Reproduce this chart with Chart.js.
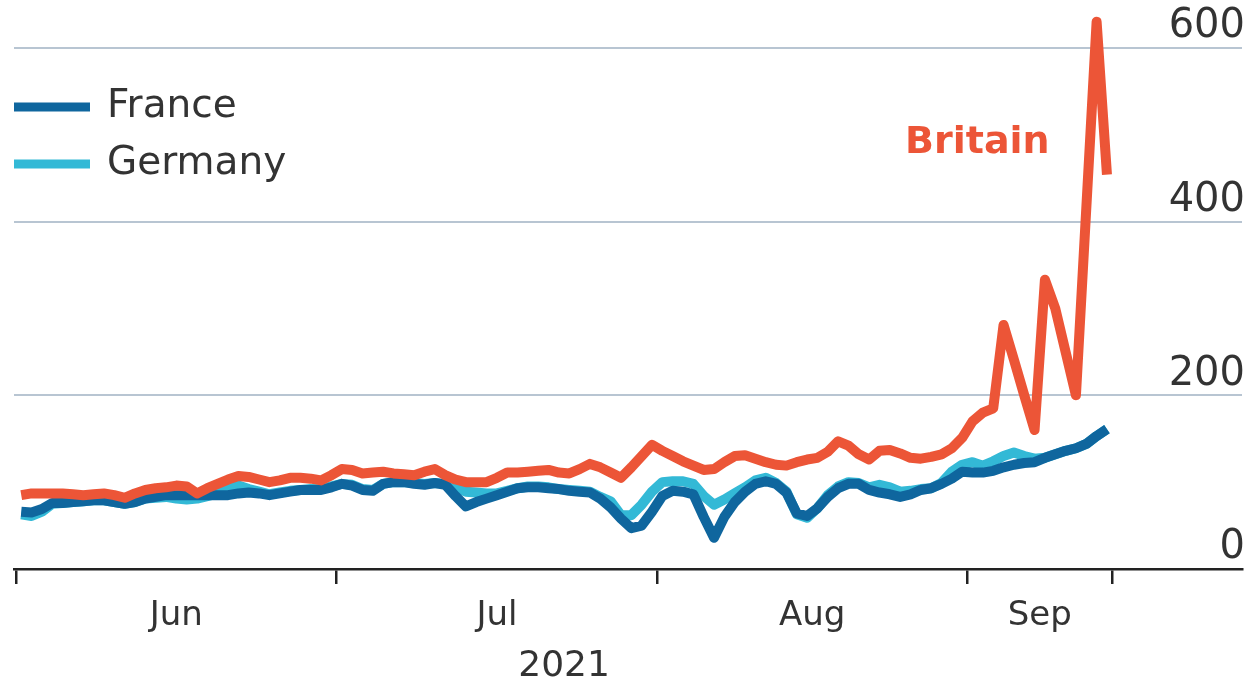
<!DOCTYPE html>
<html>
<head>
<meta charset="utf-8">
<script src="https://cdn.jsdelivr.net/npm/chart.js@4"></script>
<style>
  html, body { margin: 0; padding: 0; background: #ffffff; }
  canvas { display: block; }
</style>
</head>
<body>
<canvas id="c" width="1245" height="687" style="width:1245px;height:687px"></canvas>
<script>
// ---- data ----
const monthLabels = ['Jun', 'Jul', 'Aug', 'Sep'];
const monthEdges = [-0.5, 30.5, 61.5, 91.5, 105.5];
const yearLabel = '2021';
const yTicks = [0, 200, 400, 600];
const seriesNames = ['Britain', 'France', 'Germany'];

const britain = [
  85, 87, 87, 87, 87, 86, 85, 86, 87, 85,
  82, 87, 91, 93, 94, 96, 95, 87, 93, 98,
  103, 107, 106, 103, 100, 102, 105, 105, 104, 102,
  108, 115, 114, 110, 111, 112, 110, 109, 108, 112,
  115, 108, 103, 100, 100, 100, 105, 111, 111, 112,
  113, 114, 111, 110, 115, 121, 117, 111, 105, 117,
  130, 143, 136, 130, 124, 119, 114, 115, 123, 130,
  131, 127, 123, 120, 119, 123, 126, 128, 135, 147,
  142, 132, 126, 136, 137, 133, 128, 127, 129, 132,
  139, 151, 170, 180, 185, 281, 241, 200, 160, 333,
  300, 250, 200, 415, 630, 454
];
const france = [
  66, 65, 69, 76, 76, 77, 78, 79, 79, 77,
  75, 77, 81, 83, 85, 85, 85, 85, 85, 85,
  85, 87, 88, 87, 85, 87, 89, 91, 91, 91,
  94, 98, 96, 91, 90, 98, 100, 100, 98, 97,
  99, 97, 84, 72, 77, 81, 85, 89, 93, 94,
  94, 93, 92, 90, 89, 88, 81, 71, 58, 47,
  50, 66, 84, 90, 89, 86, 60, 36, 60, 77,
  89, 98, 101, 98, 88, 64, 61, 70, 83, 93,
  98, 98, 91, 88, 86, 83, 86, 91, 93, 98,
  104, 112, 111, 111, 113, 117, 120, 122, 123, 128,
  132, 136, 139, 144, 153, 161
];
const germany = [
  63, 61, 66, 75, 76, 77, 78, 79, 79, 77,
  75, 77, 81, 82, 83, 81, 80, 81, 84, 87,
  92, 96, 92, 89, 86, 88, 90, 91, 92, 92,
  95, 98, 97, 92, 91, 98, 100, 100, 99, 98,
  99, 98, 94, 89, 88, 87, 87, 90, 93, 95,
  95, 94, 92, 91, 90, 89, 83, 78, 62, 62,
  74, 89, 100, 101, 101, 98, 84, 74, 80, 87,
  94, 102, 105, 99, 89, 63, 59, 70, 85, 95,
  100, 99, 94, 97, 94, 89, 90, 92, 93, 99,
  112, 120, 123, 119, 124, 130, 134, 130, 127, 128,
  132, 136, 139, 144, 153, 161
];

// ---- styles ----
const ORANGE = '#EC5537';
const DARK_BLUE = '#0F669E';
const CYAN = '#33B9D6';
const TEXT = '#333333';
const GRID = '#B8C5D2';
const FONT = '"DejaVu Sans", "Liberation Sans", sans-serif';

const toPoints = arr => arr.map((v, i) => ({ x: i, y: v }));

// x ticks: month edges (tick marks) and midpoints (labels)
const xTickValues = [];
const xTickText = {};
monthEdges.forEach((e, k) => {
  xTickValues.push(e);
  xTickText[e] = '';
  if (k < monthEdges.length - 1) {
    const mid = (e + monthEdges[k + 1]) / 2;
    xTickValues.push(mid);
    xTickText[mid] = monthLabels[k];
  }
});
const isEdge = v => monthEdges.indexOf(v) !== -1;

const overlay = {
  id: 'overlay',
  afterDraw(chart) {
    const ctx = chart.ctx;
    const xs = chart.scales.x;
    ctx.save();
    ctx.textBaseline = 'middle';
    // legend (France, Germany)
    const legendSets = chart.data.datasets.filter(d => d.label !== seriesNames[0]);
    legendSets.forEach((ds, k) => {
      const y = 107 + k * 57;
      ctx.strokeStyle = ds.borderColor;
      ctx.lineWidth = 9;
      ctx.lineCap = 'butt';
      ctx.beginPath();
      ctx.moveTo(14, y);
      ctx.lineTo(90, y);
      ctx.stroke();
      ctx.fillStyle = TEXT;
      ctx.font = '39px ' + FONT;
      ctx.textAlign = 'left';
      ctx.fillText(ds.label, 107, y);
    });
    // Britain direct label
    ctx.fillStyle = ORANGE;
    ctx.font = 'bold 38px ' + FONT;
    ctx.textAlign = 'left';
    ctx.fillText(seriesNames[0], 905, 143);
    // year label centred under the labelled span
    const cx = (xs.getPixelForValue(monthEdges[0]) + xs.getPixelForValue(monthEdges[monthEdges.length - 1])) / 2;
    ctx.fillStyle = TEXT;
    ctx.font = '36px ' + FONT;
    ctx.textAlign = 'center';
    ctx.fillText(yearLabel, cx, 667);
    ctx.restore();
  }
};

const lineStyle = color => ({
  borderColor: color,
  backgroundColor: color,
  borderWidth: 10,
  pointRadius: 0,
  tension: 0,
  fill: false,
  clip: 10,
  borderJoinStyle: 'round',
  borderCapStyle: 'butt'
});

new Chart(document.getElementById('c'), {
  type: 'line',
  data: {
    datasets: [
      Object.assign({ label: seriesNames[0], data: toPoints(britain) }, lineStyle(ORANGE)),
      Object.assign({ label: seriesNames[1], data: toPoints(france) }, lineStyle(DARK_BLUE)),
      Object.assign({ label: seriesNames[2], data: toPoints(germany) }, lineStyle(CYAN))
    ]
  },
  options: {
    responsive: false,
    animation: false,
    devicePixelRatio: 1,
    layout: { padding: { left: 14, right: 3, top: 0, bottom: 0 } },
    plugins: { legend: { display: false }, tooltip: { enabled: false } },
    scales: {
      x: {
        type: 'linear',
        position: 'bottom',
        min: -0.7,
        max: 118.06,
        afterBuildTicks: s => { s.ticks = xTickValues.map(v => ({ value: v })); },
        afterFit: s => { s.height = 118; s.paddingLeft = 0; s.paddingRight = 0; },
        ticks: {
          autoSkip: false,
          maxRotation: 0,
          minRotation: 0,
          padding: 12,
          color: TEXT,
          font: { family: FONT, size: 34 },
          callback: v => xTickText[v] !== undefined ? xTickText[v] : ''
        },
        grid: {
          drawOnChartArea: false,
          drawTicks: true,
          tickLength: 15,
          lineWidth: 2.5,
          tickWidth: 2.5,
          tickColor: c => (c.tick && isEdge(c.tick.value)) ? '#222222' : 'rgba(0,0,0,0)',
          color: 'rgba(0,0,0,0)'
        },
        border: { display: true, color: '#222222', width: 2.5 }
      },
      y: {
        type: 'linear',
        position: 'right',
        min: 0,
        max: 655,
        afterBuildTicks: s => { s.ticks = yTicks.map(v => ({ value: v })); },
        afterFit: s => { s.width = 0; s.paddingTop = 0; s.paddingBottom = 0; },
        ticks: {
          mirror: true,
          padding: 3,
          labelOffset: -21,
          color: TEXT,
          font: { family: FONT, size: 40 },
          callback: v => String(v)
        },
        grid: {
          drawTicks: false,
          lineWidth: 2,
          color: c => (c.tick && c.tick.value === 0) ? 'rgba(0,0,0,0)' : GRID
        },
        border: { display: false }
      }
    }
  },
  plugins: [overlay]
});
</script>
</body>
</html>
